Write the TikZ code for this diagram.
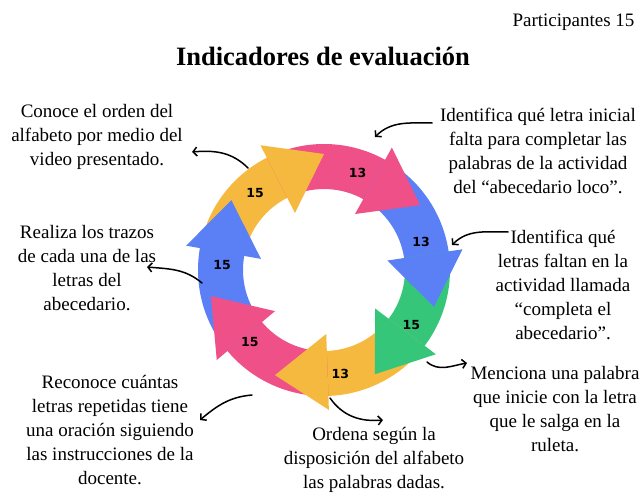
\documentclass[tikz,border=0pt]{standalone}
\usepackage{fontspec}
\setmainfont{Liberation Serif}
\newfontfamily\numfont{DejaVu Sans}
\usepackage{xcolor}
\usetikzlibrary{arrows.meta}
\definecolor{amarillo}{HTML}{F6B940}
\definecolor{rosa}{HTML}{EF5088}
\definecolor{azul}{HTML}{5B80F6}
\definecolor{verde}{HTML}{36C67A}
\newcommand\cuerpo[3]{\fill[#1] (#2:126) arc (#2:#3:126) -- (#3:81) arc (#3:#2:81) -- cycle;}
\newcommand\punta[2]{\fill[#1] (#2:64) -- (#2:140) -- (#2-27:116) -- cycle;}

\begin{document}
\begin{tikzpicture}[x=1pt, y=1pt, >={Straight Barb[length=4pt,width=9pt]},
  indicador/.style={align=center, inner sep=0pt, font=\fontsize{19}{24}\selectfont},
  cifra/.style={inner sep=0pt, font=\numfont\bfseries\fontsize{12.5}{12.5}\selectfont},
  conector/.style={->, line width=1.5pt, line cap=round}]
  \useasboundingbox (0,0) rectangle (644,493);

  \node[anchor=east, font=\fontsize{19}{22}\selectfont] (participantes) at (638,471) {Participantes 15};
  \node[font=\fontsize{26.5}{32}\selectfont\bfseries] (titulo) at (323,437) {Indicadores de evaluación};

  \begin{scope}[shift={(324,223)}]
    \cuerpo{amarillo}{170}{116}
    \cuerpo{rosa}{117}{60}
    \cuerpo{azul}{61}{7.5}
    \cuerpo{verde}{8.5}{-38}
    \cuerpo{amarillo}{-37}{-89}
    \cuerpo{rosa}{-88}{-141}
    \cuerpo{azul}{-140}{-191}
    \punta{amarillo}{117}
    \punta{rosa}{61}
    \punta{azul}{8.5}
    \punta{verde}{-37}
    \punta{amarillo}{-88}
    \punta{rosa}{-140}
    \punta{azul}{170}
    \node[cifra] (n1) at (132:103) {15};
    \node[cifra] (n2) at (71:103) {13};
    \node[cifra] (n3) at (16:101) {13};
    \node[cifra] (n4) at (-32:103) {15};
    \node[cifra] (n5) at (-81:105) {13};
    \node[cifra] (n6) at (-136:103) {15};
    \node[cifra] (n7) at (177:102) {15};
  \end{scope}

  \node[indicador] (conoce) at (97,356) {Conoce el orden del\\alfabeto por medio del\\video presentado.};
  \node[indicador] (realiza) at (87,225) {Realiza los trazos\\de cada una de las\\letras del\\abecedario.};
  \node[indicador] (inicial) at (538,342) {Identifica qué letra inicial\\falta para completar las\\palabras de la actividad\\del “abecedario loco”.};
  \node[indicador] (faltan) at (563,208) {Identifica qué\\letras faltan en la\\actividad llamada\\“completa el\\abecedario”.};
  \node[indicador] (menciona) at (555,84) {Menciona una palabra\\que inicie con la letra\\que le salga en la\\ruleta.};
  \node[indicador] (ordena) at (374,33) {Ordena según la\\disposición del alfabeto\\las palabras dadas.};
  \node[indicador] (reconoce) at (110,63) {Reconoce cuántas\\letras repetidas tiene\\una oración siguiendo\\las instrucciones de la\\docente.};

  \coordinate (a1) at (248,325); \coordinate (a2) at (192,341);
  \coordinate (b1) at (432,370); \coordinate (b2) at (375,356);
  \coordinate (c1) at (508,261); \coordinate (c2) at (452,248);
  \coordinate (d1) at (427,131); \coordinate (d2) at (467,130);
  \coordinate (e1) at (330,95);  \coordinate (e2) at (383,73);
  \coordinate (f1) at (252,98);  \coordinate (f2) at (200,73);
  \coordinate (g1) at (202,210); \coordinate (g2) at (147,226);
  \draw[conector] (a1) to[out=135, in=5] (a2);
  \draw[conector] (b1) to[out=180, in=45] (b2);
  \draw[conector] (c1) to[out=180, in=45] (c2);
  \draw[conector] (d1) to[out=-40, in=190] (d2);
  \draw[conector] (e1) to[out=-55, in=185] (e2);
  \draw[conector] (f1) to[out=185, in=40] (f2);
  \draw[conector] (g1) to[out=140, in=-5] (g2);
\end{tikzpicture}
\end{document}
